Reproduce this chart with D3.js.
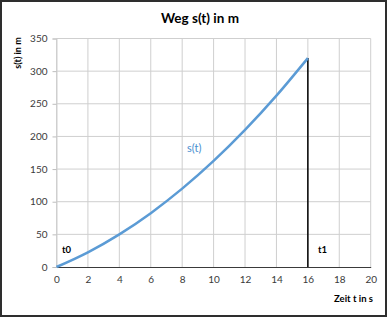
<!DOCTYPE html>
<html><head><meta charset="utf-8">
<script src="https://cdn.jsdelivr.net/npm/d3@7"></script>
<style>body{margin:0;background:#fff}svg{display:block}</style>
</head><body>
<script>
const times = [0, 2, 4, 6, 8, 10, 12, 14, 16];
const distances = [0, 22.5, 50, 82.5, 120, 162.5, 210, 262.5, 320];
const xTicks = [0, 2, 4, 6, 8, 10, 12, 14, 16, 18, 20];
const yTicks = [0, 50, 100, 150, 200, 250, 300, 350];
const markerT = 16;

const W = 387, H = 317;
const m = {left: 56.5, right: 16.3, top: 38.5, bottom: 50};
const svg = d3.select("body").append("svg").attr("width", W).attr("height", H)
  .style("font-family", "Lato, 'Open Sans', sans-serif");

svg.append("rect").attr("x", 1).attr("y", 1).attr("width", W - 2).attr("height", H - 2)
  .attr("fill", "#fff").attr("stroke", "#2e2e2e").attr("stroke-width", 2);

const x = d3.scaleLinear().domain([0, 20]).range([m.left, W - m.right]);
const y = d3.scaleLinear().domain([0, 350]).range([H - m.bottom, m.top]);

// grid
svg.append("g").selectAll("line").data(yTicks.filter(d => d > 0)).join("line")
  .attr("x1", x(0)).attr("x2", x(20)).attr("y1", d => y(d)).attr("y2", d => y(d))
  .attr("stroke", "#cfcfcf").attr("stroke-width", 1);
svg.append("g").selectAll("line").data(xTicks).join("line")
  .attr("x1", d => x(d)).attr("x2", d => x(d)).attr("y1", y(0)).attr("y2", y(350))
  .attr("stroke", "#cfcfcf").attr("stroke-width", 1);

// y axis ticks & labels
const ya = svg.append("g").attr("transform", `translate(${x(0)},0)`)
  .call(d3.axisLeft(y).tickValues(yTicks).tickSize(4).tickPadding(5));
ya.select(".domain").attr("stroke", "#cfcfcf");
ya.selectAll(".tick line").attr("stroke", "#bdbdbd");
ya.selectAll("text").attr("fill", "#3a3a3a").style("font-size", "10px").style("font-family", "Lato, sans-serif");

// x axis
const xa = svg.append("g").attr("transform", `translate(0,${y(0)})`)
  .call(d3.axisBottom(x).tickValues(xTicks).tickSize(0).tickPadding(9));
xa.select(".domain").attr("stroke", "#3a3a3a").attr("stroke-width", 1.2);
xa.selectAll("text").attr("fill", "#3a3a3a").style("font-size", "10px").style("font-family", "Lato, sans-serif");

// marker line at t1
svg.append("line").attr("x1", x(markerT)).attr("x2", x(markerT))
  .attr("y1", y(0)).attr("y2", y(distances[distances.length - 1]))
  .attr("stroke", "#000").attr("stroke-width", 1.5);

// curve
const line = d3.line().x((d, i) => x(times[i])).y(d => y(d)).curve(d3.curveMonotoneX);
svg.append("path").datum(distances).attr("d", line)
  .attr("fill", "none").attr("stroke", "#5b9bd5").attr("stroke-width", 2.5);

// texts
svg.append("text").attr("x", 200).attr("y", 23).attr("text-anchor", "middle")
  .attr("font-weight", "bold").attr("font-size", 13.5).attr("fill", "#000").text("Weg s(t) in m");
svg.append("text").attr("transform", "translate(21,53) rotate(-90)").attr("text-anchor", "middle")
  .attr("font-weight", "bold").attr("font-size", 9).attr("fill", "#000").text("s(t) in m");
svg.append("text").attr("x", 373).attr("y", 302).attr("text-anchor", "end")
  .attr("font-weight", "bold").attr("font-size", 9.5).attr("fill", "#000").text("Zeit t in s");
svg.append("text").attr("x", 62).attr("y", 253).attr("font-weight", "bold").attr("font-size", 9.5).attr("fill", "#000").text("t0");
svg.append("text").attr("x", 318).attr("y", 253).attr("font-weight", "bold").attr("font-size", 9.5).attr("fill", "#000").text("t1");
svg.append("text").attr("x", 187).attr("y", 152).attr("font-size", 11).attr("fill", "#4a8fd0").text("s(t)");
</script>
</body></html>
